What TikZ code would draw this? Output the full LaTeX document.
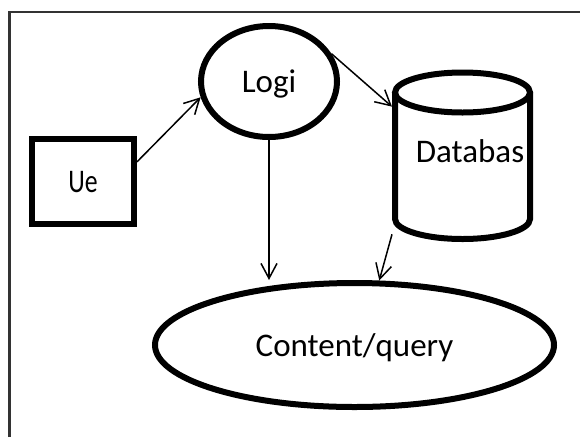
\documentclass[tikz,border=0pt]{standalone}
\usepackage{fontspec}
\setmainfont{Carlito}
\newfontfamily\narrowfont{Carlito}[FakeStretch=0.78]
\usetikzlibrary{shapes.geometric,arrows.meta,positioning}
\definecolor{framegray}{HTML}{333333}

\begin{document}
\begin{tikzpicture}[x=1pt,y=-1pt,
    box/.style={draw,line width=6pt,minimum width=102pt,minimum height=85pt,inner sep=0pt},
    oval/.style={draw,ellipse,line width=6pt,inner sep=0pt,text depth=0pt},
    store/.style={line width=6pt,inner sep=0pt,minimum width=135pt,minimum height=166pt},
    link/.style={line width=1.5pt,-{Straight Barb[length=15pt,width=16pt]}},
    font=\fontsize{33}{40}\selectfont]
  \useasboundingbox (0,0) rectangle (580,437);

  \draw[framegray,line width=2.5pt] (9.5,437) -- (9.5,12) -- (580,12);

  \node[box,text depth=0pt] (user) at (83,181.5) {\narrowfont Ue};
  \node[oval,minimum width=136pt,minimum height=111pt] (logi) at (269,81.5) {Logi};
  \node[oval,minimum width=399pt,minimum height=124pt] (content) at (354.5,345) {Content/query};
  \node[text depth=0pt] (dbtext) at (470,151) {Databas};
  \node[store] (db) at (462.5,156) {};
  \draw[line width=6pt] (462.5,92.5) ellipse [x radius=67.5,y radius=20];
  \draw[line width=6pt] (395,92.5) -- (395,219)
    arc [start angle=180,end angle=0,x radius=67.5,y radius=20] -- (530,92.5);

  \draw[link] (user.20) -- (logi.193);
  \draw[link] (logi.24) -- (db.145);
  \draw[link] (logi.south) -- (logi.south |- content.north);
  \draw[link] (db.228) -- (content.69);
\end{tikzpicture}
\end{document}
